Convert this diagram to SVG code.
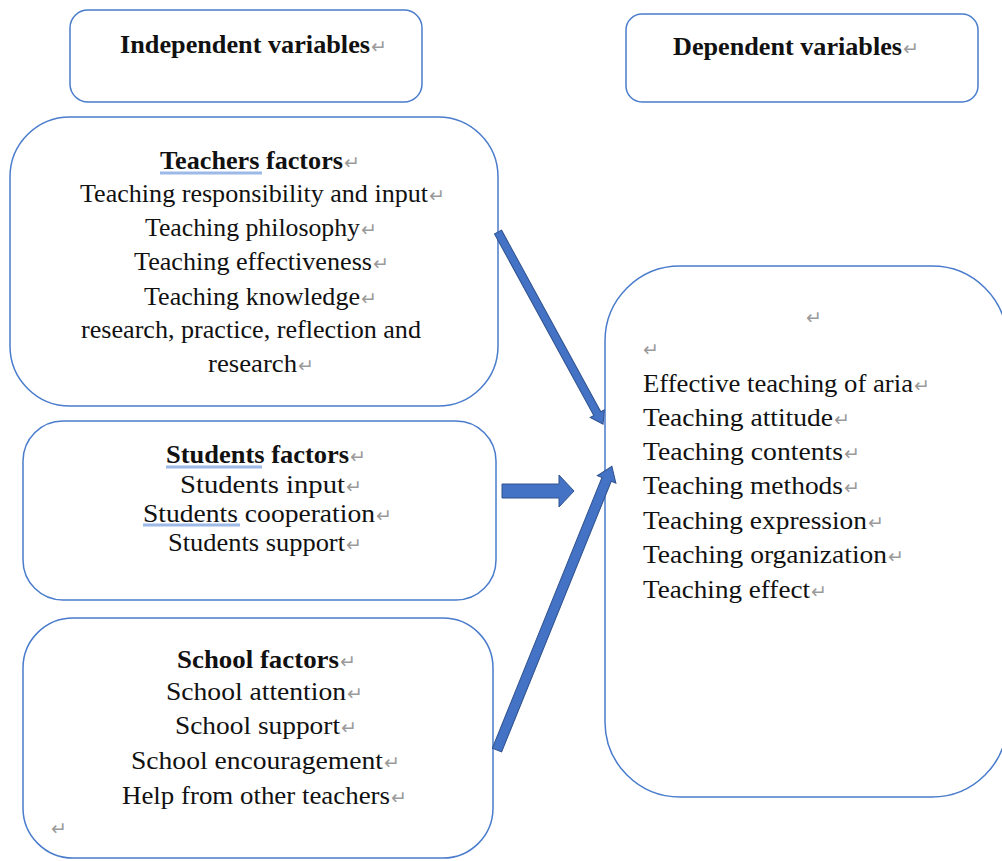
<svg xmlns="http://www.w3.org/2000/svg" width="1002" height="861" viewBox="0 0 1002 861">
<style>
.box{fill:#fff;stroke:#4a7ccc;stroke-width:1.5}
.t{font-family:"Liberation Serif","Times New Roman",serif;font-size:25px;fill:#111}
.b{font-weight:bold}
.r{font-size:26px}
.pm{font-family:"DejaVu Sans",sans-serif;font-size:19px;fill:#9a9a9a}
.ul{stroke:#9DB9E8;stroke-width:3}
.arr{fill:#4472C4;stroke:#2F528F;stroke-width:1}
</style>
<rect width="1002" height="861" fill="#fff"/>

<g id="independent">
<rect class="box" x="70" y="10" width="352" height="92" rx="18"/>
<text class="t b" x="120" y="53" textLength="250" lengthAdjust="spacingAndGlyphs">Independent variables</text>
<text class="pm" x="371" y="53">↵</text>
</g>

<g id="dependent">
<rect class="box" x="626" y="14" width="352" height="88" rx="16"/>
<text class="t b" x="673" y="55" textLength="229" lengthAdjust="spacingAndGlyphs">Dependent variables</text>
<text class="pm" x="903" y="55">↵</text>
</g>

<g id="teachers">
<rect class="box" x="10" y="117" width="488" height="289" rx="60"/>
<line class="ul" x1="160" y1="173" x2="262" y2="173"/>
<text class="t b" x="160" y="169" textLength="183" lengthAdjust="spacingAndGlyphs">Teachers factors</text>
<text class="pm" x="344" y="169">↵</text>
<text class="t" x="80" y="202" textLength="348" lengthAdjust="spacingAndGlyphs">Teaching responsibility and input</text>
<text class="pm" x="429" y="202">↵</text>
<text class="t" x="145" y="236" textLength="215" lengthAdjust="spacingAndGlyphs">Teaching philosophy</text>
<text class="pm" x="361" y="236">↵</text>
<text class="t" x="134" y="270" textLength="238" lengthAdjust="spacingAndGlyphs">Teaching effectiveness</text>
<text class="pm" x="373" y="270">↵</text>
<text class="t" x="144" y="305" textLength="216" lengthAdjust="spacingAndGlyphs">Teaching knowledge</text>
<text class="pm" x="361" y="305">↵</text>
<text class="t" x="81" y="338" textLength="340" lengthAdjust="spacingAndGlyphs">research, practice, reflection and</text>
<text class="t" x="208" y="372" textLength="89" lengthAdjust="spacingAndGlyphs">research</text>
<text class="pm" x="298" y="372">↵</text>
</g>

<g id="students">
<rect class="box" x="23" y="421" width="473" height="179" rx="40"/>
<line class="ul" x1="166" y1="467" x2="262" y2="467"/>
<line class="ul" x1="143" y1="525" x2="240" y2="525"/>
<text class="t b" x="166" y="463" textLength="183" lengthAdjust="spacingAndGlyphs">Students  factors</text>
<text class="pm" x="350" y="463">↵</text>
<text class="t" x="180" y="493" textLength="165" lengthAdjust="spacingAndGlyphs">Students input</text>
<text class="pm" x="346" y="493">↵</text>
<text class="t" x="143" y="522" textLength="232" lengthAdjust="spacingAndGlyphs">Students cooperation</text>
<text class="pm" x="376" y="522">↵</text>
<text class="t" x="168" y="551" textLength="177" lengthAdjust="spacingAndGlyphs">Students support</text>
<text class="pm" x="346" y="551">↵</text>
</g>

<g id="school">
<rect class="box" x="23" y="618" width="470" height="240" rx="50"/>
<text class="t b" x="177" y="668" textLength="162" lengthAdjust="spacingAndGlyphs">School factors</text>
<text class="pm" x="340" y="668">↵</text>
<text class="t" x="166" y="700" textLength="180" lengthAdjust="spacingAndGlyphs">School attention</text>
<text class="pm" x="347" y="700">↵</text>
<text class="t" x="175" y="734" textLength="165" lengthAdjust="spacingAndGlyphs">School support</text>
<text class="pm" x="341" y="734">↵</text>
<text class="t" x="131" y="769" textLength="252" lengthAdjust="spacingAndGlyphs">School encouragement</text>
<text class="pm" x="384" y="769">↵</text>
<text class="t" x="122" y="804" textLength="268" lengthAdjust="spacingAndGlyphs">Help from other teachers</text>
<text class="pm" x="391" y="804">↵</text>
<text class="pm" x="51" y="835">↵</text>
</g>

<g id="outcomes">
<rect class="box" x="605" y="266" width="402" height="531" rx="75"/>
<text class="pm" x="806" y="324">↵</text>
<text class="pm" x="643" y="356">↵</text>
<text class="t r" x="643" y="392" textLength="270" lengthAdjust="spacingAndGlyphs">Effective teaching of aria</text>
<text class="pm" x="914" y="392">↵</text>
<text class="t r" x="643" y="426" textLength="190" lengthAdjust="spacingAndGlyphs">Teaching attitude</text>
<text class="pm" x="834" y="426">↵</text>
<text class="t r" x="643" y="460" textLength="200" lengthAdjust="spacingAndGlyphs">Teaching contents</text>
<text class="pm" x="844" y="460">↵</text>
<text class="t r" x="643" y="494" textLength="200" lengthAdjust="spacingAndGlyphs">Teaching methods</text>
<text class="pm" x="844" y="494">↵</text>
<text class="t r" x="643" y="529" textLength="224" lengthAdjust="spacingAndGlyphs">Teaching expression</text>
<text class="pm" x="868" y="529">↵</text>
<text class="t r" x="643" y="563" textLength="244" lengthAdjust="spacingAndGlyphs">Teaching organization</text>
<text class="pm" x="888" y="563">↵</text>
<text class="t r" x="643" y="598" textLength="167" lengthAdjust="spacingAndGlyphs">Teaching effect</text>
<text class="pm" x="811" y="598">↵</text>
</g>

<g id="connectors">
<polygon class="arr" transform="translate(498,232) rotate(61.33)" points="0,-4 207,-4 207,-8 219,0 207,8 207,4 0,4"/>
<polygon class="arr" transform="translate(502,491)" points="0,-7 57,-7 57,-16 72,0 57,16 57,7 0,7"/>
<polygon class="arr" transform="translate(497,750) rotate(-67.95)" points="0,-5 292,-5 292,-10 306,0 292,10 292,5 0,5"/>
</g>
</svg>
